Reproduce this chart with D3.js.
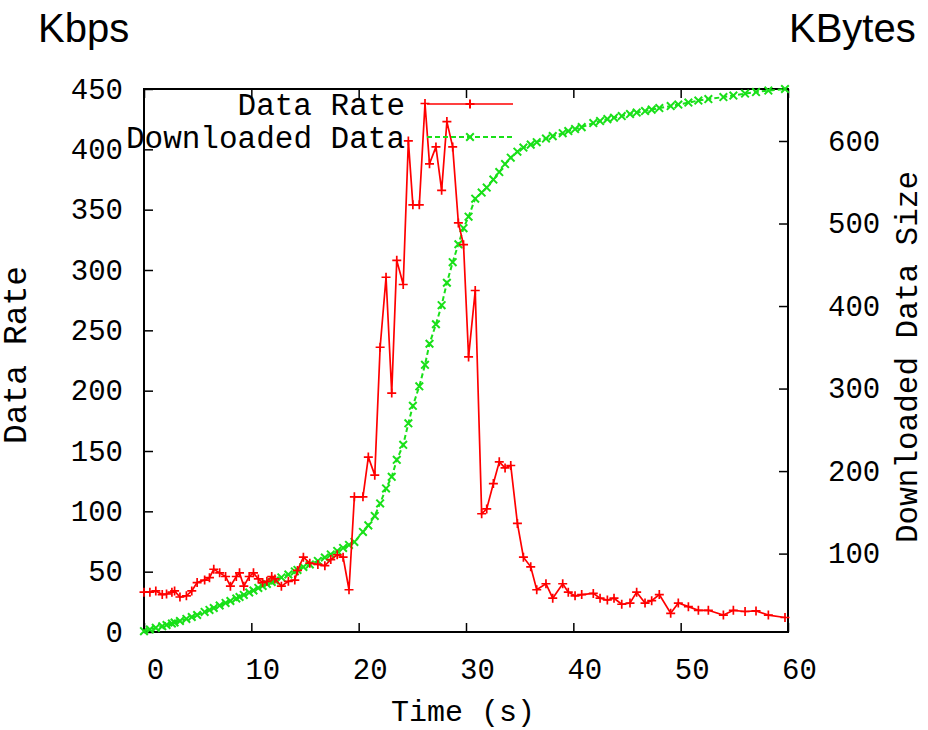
<!DOCTYPE html>
<html>
<head>
<meta charset="utf-8">
<script src="https://cdn.jsdelivr.net/npm/d3@7"></script>
<style>
  html, body { margin: 0; padding: 0; background: #fff; }
  svg { display: block; }
</style>
</head>
<body>
<script>
// ---- data ----
const time = [0, 0.55, 1.1, 1.7, 2.1, 2.6, 2.85, 3.35, 3.95, 4.45, 4.95, 5.65, 6.1, 6.5, 7.05, 7.6, 8.05, 8.6, 8.9, 9.3,
  9.8, 10.2, 10.65, 11.05, 11.45, 11.9, 12.2, 12.8, 13.45, 14.05, 14.3, 14.85, 15.45, 16.2, 16.85, 17.4, 18.0, 18.55, 19.1, 19.6,
  20.4, 20.9, 21.5, 22.0, 22.55, 23.08, 23.55, 24.15, 24.63, 25.05, 25.65, 26.18, 26.6, 27.2, 27.73, 28.22, 28.76, 29.29, 29.77, 30.24,
  30.86, 31.46, 31.93, 32.55, 33.1, 33.64, 34.17, 34.79, 35.35, 36.03, 36.59, 37.45, 38.08, 39.01, 39.53, 40.16, 40.78, 41.86, 42.49, 43.17,
  43.79, 44.51, 45.28, 45.9, 46.68, 47.3, 48.01, 49.07, 49.78, 50.72, 51.65, 52.58, 53.98, 54.91, 56.0, 57.02, 58.17, 59.72];

const dataRate = [33, 33, 34, 31, 31.5, 33, 34, 29, 30, 34, 41, 43, 45, 52, 49, 46, 38, 46, 49, 38,
  46, 49, 44, 41, 42, 46, 44, 38, 42, 43, 51, 62, 57, 56, 55, 60, 64, 62, 35, 112,
  112, 145, 130, 236, 294, 198, 308, 288, 407, 354, 354, 438, 388, 402, 366, 423, 402, 339, 321, 228,
  283, 98, 102, 123, 141, 136, 138, 90, 62, 54, 35, 40, 28, 40, 33, 30, 31, 32, 28, 26.5,
  28, 23, 24, 33, 24, 26, 31, 15.5, 24, 21, 18, 18, 14, 18, 17, 17.5, 14, 12];

const downloaded = [6, 8, 10, 12, 13.5, 15.3, 16.5, 18.3, 20.8, 23.2, 25.6, 29.3, 31.7, 34.1, 37.1, 40.2, 42.6, 45.6, 47.4, 49.9,
  52.9, 55.3, 58.4, 60.8, 63.2, 65.6, 67.5, 71.1, 74.7, 78.4, 80.2, 83.8, 86.9, 91.1, 95.3, 99.0, 103.2, 106.9, 110.5, 114.1,
  126.3, 134.2, 145.7, 160.8, 179.0, 193.0, 213.6, 231.8, 257.9, 279.1, 302.7, 328.8, 354.3, 377.9, 401.0, 428.2, 453.1, 474.9, 494.3, 508.3,
  530.1, 537.5, 543.5, 553.2, 562.3, 572.0, 579.8, 587.1, 592.0, 595.6, 598.6, 602.9, 605.9, 609.5, 612.0, 614.4, 616.8, 621.7, 624.1, 626.5,
  628.3, 630.2, 632.6, 634.4, 636.2, 638.0, 639.9, 642.3, 644.1, 646.5, 649.0, 650.8, 653.2, 655.0, 657.5, 659.3, 661.1, 663];

const xTicks = [0, 10, 20, 30, 40, 50, 60];
const yTicks = [0, 50, 100, 150, 200, 250, 300, 350, 400, 450];
const y2Ticks = [100, 200, 300, 400, 500, 600];
const seriesNames = ["Data Rate", "Downloaded Data"];

// ---- layout ----
const W = 928, H = 730;
const L = 144, R = 788, T = 89, B = 632;
const RED = "#ff0000", GREEN = "#19e019";
const MONO = "'Liberation Mono', 'Courier New', monospace";

const svg = d3.select("body").append("svg").attr("width", W).attr("height", H);

const x = d3.scaleLinear().domain([0, 60]).range([L, R]);
const y = d3.scaleLinear().domain([0, 450]).range([B, T]);
const y2 = d3.scaleLinear().domain([5, 663]).range([B, T]);

function styleAxis(g) {
  g.select(".domain").remove();
  g.selectAll(".tick line").attr("stroke", "#000").attr("stroke-width", 1.5);
  g.selectAll(".tick text").attr("fill", "#000").attr("font-family", MONO).attr("font-size", 29);
}

svg.append("g").attr("transform", `translate(0,${B})`)
  .call(d3.axisBottom(x).tickValues(xTicks).tickSizeInner(-9).tickSizeOuter(0).tickPadding(26))
  .call(styleAxis)
  .call(g => g.selectAll(".tick text").attr("dx", 11));

svg.append("g").attr("transform", `translate(0,${T})`)
  .call(d3.axisTop(x).tickValues(xTicks).tickSizeInner(-9).tickSizeOuter(0).tickFormat(""))
  .call(styleAxis);

svg.append("g").attr("transform", `translate(${L},0)`)
  .call(d3.axisLeft(y).tickValues(yTicks).tickSizeInner(-9).tickSizeOuter(0).tickPadding(21))
  .call(styleAxis);

svg.append("g").attr("transform", `translate(${R},0)`)
  .call(d3.axisRight(y2).tickValues(y2Ticks).tickSizeInner(-9).tickSizeOuter(0).tickPadding(40))
  .call(styleAxis);

// border
svg.append("rect").attr("x", L).attr("y", T).attr("width", R - L).attr("height", B - T)
  .attr("fill", "none").attr("stroke", "#000").attr("stroke-width", 2);

const plusPath = "M-4.5,0H4.5M0,-4.5V4.5";
const crossPath = "M-3.8,-3.8L3.8,3.8M-3.8,3.8L3.8,-3.8";

// green downloaded data
const gData = time.map((t, i) => [t, downloaded[i]]);
svg.append("path").datum(gData)
  .attr("fill", "none").attr("stroke", GREEN).attr("stroke-width", 2).attr("stroke-dasharray", "5,3")
  .attr("d", d3.line().x(d => x(d[0])).y(d => y2(d[1])));
svg.append("g").selectAll("path").data(gData).join("path")
  .attr("transform", d => `translate(${x(d[0])},${y2(d[1])})`)
  .attr("d", crossPath).attr("stroke", GREEN).attr("stroke-width", 2).attr("fill", "none");

// red data rate
const rData = time.map((t, i) => [t, dataRate[i]]);
svg.append("path").datum(rData)
  .attr("fill", "none").attr("stroke", RED).attr("stroke-width", 1.7)
  .attr("d", d3.line().x(d => x(d[0])).y(d => y(d[1])));
svg.append("g").selectAll("path").data(rData).join("path")
  .attr("transform", d => `translate(${x(d[0])},${y(d[1])})`)
  .attr("d", plusPath).attr("stroke", RED).attr("stroke-width", 1.7).attr("fill", "none");

// legend
const legY = [104, 137];
const legColors = [RED, GREEN];
const legMarks = [plusPath, crossPath];
seriesNames.forEach((name, i) => {
  svg.append("text").attr("x", 405).attr("y", legY[i]).attr("dy", "0.35em")
    .attr("text-anchor", "end").attr("font-family", MONO).attr("font-size", 31).attr("fill", "#000")
    .text(name);
  svg.append("line").attr("x1", 427).attr("x2", 513).attr("y1", legY[i]).attr("y2", legY[i])
    .attr("stroke", legColors[i]).attr("stroke-width", i === 0 ? 1.7 : 2)
    .attr("stroke-dasharray", i === 0 ? null : "5,3");
  svg.append("path").attr("transform", `translate(470,${legY[i]})`).attr("d", legMarks[i])
    .attr("stroke", legColors[i]).attr("stroke-width", 2).attr("fill", "none");
});

// axis titles
svg.append("text").attr("x", 463).attr("y", 721).attr("text-anchor", "middle")
  .attr("font-family", MONO).attr("font-size", 30).attr("fill", "#000").text("Time (s)");
svg.append("text").attr("transform", "translate(26,355) rotate(-90)").attr("text-anchor", "middle")
  .attr("font-family", MONO).attr("font-size", 33).attr("fill", "#000").text("Data Rate");
svg.append("text").attr("transform", "translate(917,357) rotate(-90)").attr("text-anchor", "middle")
  .attr("font-family", MONO).attr("font-size", 31).attr("fill", "#000").text("Downloaded Data Size");

// unit labels
svg.append("text").attr("x", 38).attr("y", 42).attr("font-family", "'Liberation Sans', Arial, sans-serif")
  .attr("font-size", 40).attr("fill", "#000").text("Kbps");
svg.append("text").attr("x", 789).attr("y", 42).attr("font-family", "'Liberation Sans', Arial, sans-serif")
  .attr("font-size", 40).attr("fill", "#000").text("KBytes");
</script>
</body>
</html>
